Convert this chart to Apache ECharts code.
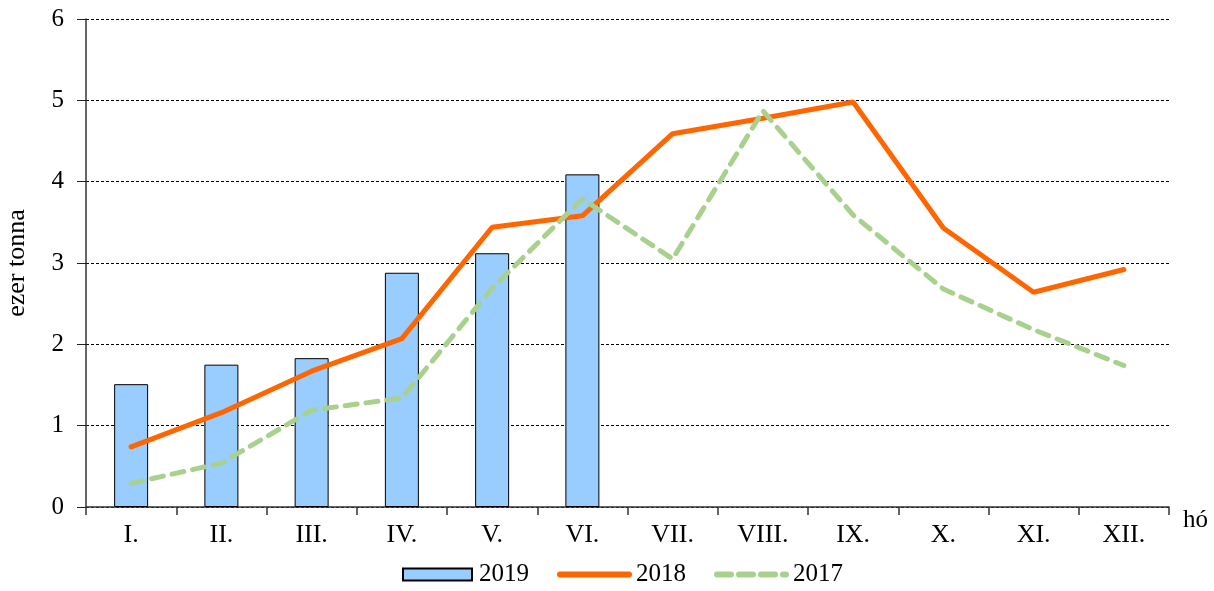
<!DOCTYPE html>
<html>
<head>
<meta charset="utf-8">
<script src="https://cdn.jsdelivr.net/npm/echarts@6/dist/echarts.min.js"></script>
<style>
  html, body { margin: 0; padding: 0; background: #fff; }
  #chart { width: 1214px; height: 591px; }
</style>
</head>
<body>
<div id="chart"></div>
<script>
// months
var months = ['I.', 'II.', 'III.', 'IV.', 'V.', 'VI.', 'VII.', 'VIII.', 'IX.', 'X.', 'XI.', 'XII.'];
// ezer tonna
var data2019 = [1.51, 1.75, 1.83, 2.88, 3.12, 4.09];
var data2018 = [0.74, 1.16, 1.67, 2.07, 3.44, 3.58, 4.59, 4.78, 4.98, 3.43, 2.64, 2.92];
var data2017 = [0.29, 0.54, 1.19, 1.34, 2.69, 3.79, 3.05, 4.87, 3.59, 2.68, 2.18, 1.74];
var yTicks = [0, 1, 2, 3, 4, 5, 6];

var font = '"Liberation Serif", "Times New Roman", serif';

var option = {
  animation: false,
  grid: { left: 86, right: 45, top: 19, bottom: 84, outerBoundsMode: 'none' },
  legend: {
    top: 557,
    left: 397,
    itemWidth: 69,
    itemHeight: 12,
    itemGap: 28,
    textStyle: { fontFamily: font, fontSize: 25, color: '#000', padding: [0, 0, 0, 2] },
    data: [
      { name: '2019', icon: 'rect' },
      { name: '2018', itemStyle: { opacity: 0 }, lineStyle: { width: 6, cap: 'round' } },
      { name: '2017', itemStyle: { opacity: 0 }, lineStyle: { width: 6, cap: 'round', type: [14, 8] } }
    ]
  },
  xAxis: {
    type: 'category',
    data: months,
    name: 'hó',
    nameGap: 14,
    nameTextStyle: { fontFamily: font, fontSize: 25, color: '#000', verticalAlign: 'top', padding: [1, 0, 0, 0] },
    axisLine: { lineStyle: { color: '#333', width: 1.5 } },
    axisTick: { show: true, length: 8, lineStyle: { color: '#333', width: 1.5 } },
    axisLabel: { fontFamily: font, fontSize: 26, color: '#000', margin: 15 }
  },
  yAxis: {
    type: 'value',
    min: yTicks[0],
    max: yTicks[yTicks.length - 1],
    interval: 1,
    name: 'ezer tonna',
    nameLocation: 'middle',
    nameGap: 56,
    nameTextStyle: { fontFamily: font, fontSize: 26, color: '#000' },
    axisLine: { show: true, lineStyle: { color: '#333', width: 1.5 } },
    axisTick: { show: true, length: 9, lineStyle: { color: '#222', width: 1 } },
    axisLabel: { fontFamily: font, fontSize: 25, color: '#000', margin: 22 },
    splitLine: { show: true, lineStyle: { color: '#000', width: 1, type: [3, 2] } }
  },
  series: [
    {
      name: '2019',
      type: 'bar',
      data: data2019,
      barWidth: 34,
      itemStyle: { color: '#99CCFF', borderColor: '#000', borderWidth: 1 }
    },
    {
      name: '2018',
      type: 'line',
      data: data2018,
      symbol: 'none',
      lineStyle: { color: '#FF6600', width: 5, cap: 'round' },
      itemStyle: { color: '#FF6600' }
    },
    {
      name: '2017',
      type: 'line',
      data: data2017,
      symbol: 'none',
      lineStyle: { color: '#A9D18E', width: 5, type: [12, 9], cap: 'round' },
      itemStyle: { color: '#A9D18E' }
    }
  ]
};

var chart = echarts.init(document.getElementById('chart'));
chart.setOption(option);
</script>
</body>
</html>
